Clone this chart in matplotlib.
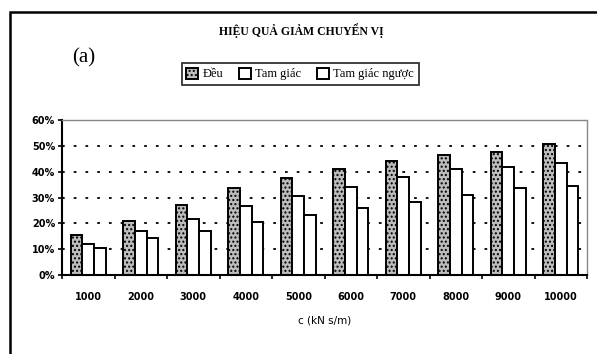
import matplotlib
matplotlib.use("Agg")
import matplotlib.pyplot as plt
import numpy as np
from matplotlib.patches import Rectangle

categories = ["1000", "2000", "3000", "4000", "5000", "6000", "7000", "8000", "9000", "10000"]
deu = [15.6, 21.0, 27.0, 33.5, 37.6, 41.1, 44.1, 46.3, 47.7, 50.6]
tam_giac = [12.0, 17.0, 21.7, 26.6, 30.5, 34.0, 38.0, 40.9, 41.8, 43.5]
tam_giac_nguoc = [10.6, 14.4, 17.2, 20.6, 23.3, 26.0, 28.1, 30.9, 33.5, 34.6]
series_names = ["Đều", "Tam giác", "Tam giác ngược"]
yticks = [0, 10, 20, 30, 40, 50, 60]
title = "HIỆU QUẢ GIẢM CHUYỂN VỊ"
xlabel = "c (kN s/m)"

plt.rcParams["hatch.color"] = "#555555"
fig = plt.figure(figsize=(5.97, 3.54), dpi=100)
fig.patch.set_facecolor("white")

# outer frame
fig.add_artist(Rectangle((10/597, -0.05), 1.2, 1 - 12/354 + 0.05, transform=fig.transFigure,
                         fill=False, edgecolor="black", linewidth=1.8))

ax = fig.add_axes([62/597, 1 - 275/354, (587 - 62)/597, (275 - 120)/354])
x = np.arange(len(categories))
w = 0.22
ax.bar(x - w, deu, w, color="#bdbdbd", edgecolor="black", linewidth=1.4, hatch="....", label=series_names[0])
ax.bar(x, tam_giac, w, color="white", edgecolor="black", linewidth=1.4, label=series_names[1])
ax.bar(x + w, tam_giac_nguoc, w, color="white", edgecolor="black", linewidth=1.4, label=series_names[2])

ax.set_xlim(-0.5, len(categories) - 0.5)
ax.set_ylim(0, 60)
ax.set_yticks(yticks)
ax.set_yticklabels([f"{v}%" for v in yticks], fontsize=7, fontweight="bold")
ax.set_xticks(x)
ax.set_xticklabels(categories, fontsize=7, fontweight="semibold")
ax.tick_params(axis="x", length=0, pad=12)
ax.set_xticks(np.arange(-0.5, len(categories)), minor=True)
ax.tick_params(axis="x", which="minor", length=3, width=1.2, direction="out")
ax.tick_params(axis="y", length=3, width=1.2, direction="out", pad=2)
for yv in yticks[1:-1]:
    ax.axhline(yv, color="black", linestyle=(0, (1.5, 5)), linewidth=1.3, zorder=0)
ax.set_axisbelow(True)
for s in ["top", "right"]:
    ax.spines[s].set_color("#888888")
    ax.spines[s].set_linestyle((0, (3, 1)))
    ax.spines[s].set_linewidth(1)
ax.spines["left"].set_linewidth(1.5)
ax.spines["bottom"].set_linewidth(1.5)
ax.set_xlabel(xlabel, fontsize=7.5, labelpad=10)

fig.text(0.505, 1 - 31/354, title, ha="center", va="center", fontsize=8.5, fontweight="bold",
         family="Liberation Serif")
fig.text(72/597, 1 - 58/354, "(a)", ha="left", va="center", fontsize=15, family="Liberation Serif")

leg = ax.legend(loc="center", bbox_to_anchor=(300/597, 1 - 74/354), bbox_transform=fig.transFigure,
                ncol=3, frameon=True, fancybox=False, edgecolor="black",
                handlelength=1.0, handleheight=1.0, handletextpad=0.35, columnspacing=1.2,
                borderpad=0.35, prop={"family": "Liberation Serif", "size": 9})
leg.get_frame().set_linewidth(1.3)

fig.savefig("out.png", dpi=100)
